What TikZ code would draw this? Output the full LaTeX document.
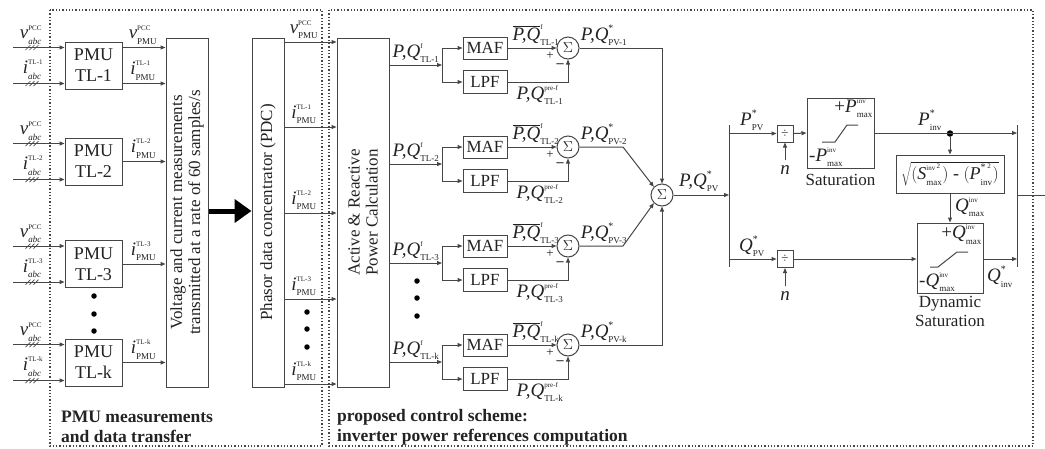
\documentclass[tikz,border=0pt]{standalone}
\usepackage{fontspec}
\setmainfont{Liberation Serif}
\usetikzlibrary{arrows.meta,calc}
\definecolor{lc}{RGB}{70,70,70}
\definecolor{tc}{RGB}{35,35,35}
\newcommand\lb[3]{\ensuremath{\textit{#1}^{\raisebox{2pt}{\fontsize{7}{7}\selectfont #2}}_{\raisebox{-1pt}{\fontsize{9}{9}\selectfont #3}}}}
\newcommand\lbo[3]{\ensuremath{\overline{\textit{#1}}^{\raisebox{2pt}{\fontsize{7}{7}\selectfont #2}}_{\raisebox{-1pt}{\fontsize{9}{9}\selectfont #3}}}}
\newcommand\st{\fontsize{10}{10}\selectfont *}
\tikzset{
 bx/.style={draw=lc, line width=1pt, inner sep=0pt, align=center, font=\fontsize{18}{21}\selectfont},
 rt/.style={rotate=90, inner sep=0pt, align=center, font=\fontsize{17}{18}\selectfont},
 lbl/.style={inner sep=0pt, font=\fontsize{19}{20}\selectfont},
 ar/.style={draw=lc, line width=1pt, -{Triangle[length=5pt,width=4pt]}},
 ln/.style={draw=lc, line width=1pt},
 tk/.style={draw=lc, line width=0.7pt},
 sm/.style={draw=lc, line width=1pt, circle, minimum size=22pt, inner sep=0pt, font=\fontsize{14}{14}\selectfont},
 dv/.style={draw=lc, line width=1pt, minimum width=16pt, minimum height=17pt, inner sep=0pt, font=\fontsize{13}{13}\selectfont},
 dt/.style={circle, fill=black, inner sep=0pt, minimum size=5.5pt},
 frm/.style={draw=lc, line width=1.3pt, dotted},
 sg/.style={inner sep=0pt, font=\fontsize{13}{13}\selectfont}
}
\begin{document}
\begin{tikzpicture}[x=1pt,y=-1pt, every node/.append style={text=tc}]
\fill[white] (0,0) rectangle (1045,448);
\useasboundingbox (0,0) rectangle (1045,448);
% frames
\draw[frm] (50,10) rectangle (322,446);
\draw[frm] (329,10) rectangle (1033,446);
% big boxes
\node[bx,minimum width=42pt,minimum height=349pt] (vc) at (187,212.5) {};
\node[rt] (vct) at (vc) {Voltage and current measurements\\transmitted at a rate of 60 samples/s};
\node[bx,minimum width=32pt,minimum height=349pt] (pdc) at (268,212.5) {};
\node[rt] (pdct) at (pdc) {Phasor data concentrator (PDC)};
\node[bx,minimum width=52pt,minimum height=349pt] (arp) at (363,212.5) {};
\node[rt] (arpt) at (arp) {Active \& Reactive\\Power Calculation};
% PMU blocks
\foreach \n/\c in {1/65.5,2/161.5,3/264,k/362.5}{
 \node[bx,minimum width=57pt,minimum height=47pt] (pmu\n) at (93.5,\c) {PMU\\TL-\n};
 \coordinate (va\n) at (13,{\c-18});
 \coordinate (ia\n) at (13,{\c+18});
 \draw[ar] (va\n) -- (va\n -| pmu\n.west);
 \draw[ar] (ia\n) -- (ia\n -| pmu\n.west);
 \foreach \xx in {28,32,36}{
  \draw[tk] (\xx-2.5,{\c-18+2.5}) -- (\xx+2.5,{\c-18-2.5});
  \draw[tk] (\xx-2.5,{\c+18+2.5}) -- (\xx+2.5,{\c+18-2.5});
 }
 \node[lbl,anchor=south] (vl\n) at (31,{\c-21}) {\lb{v}{PCC}{\textit{abc}}};
 \node[lbl,anchor=south] (il\n) at (33,{\c+14}) {\lb{i}{TL-\n}{\textit{abc}}};
}
% PMU outputs
\draw[ar] (va1 -| pmu1.east) -- (va1 -| vc.west);
\draw[ar] (ia1 -| pmu1.east) -- (ia1 -| vc.west);
\node[lbl,anchor=south] (o1) at (143,44.5) {\lb{v}{PCC}{PMU}};
\node[lbl,anchor=south] (o2) at (143,80.5) {\lb{i}{TL-1}{PMU}};
\foreach \n in {2,3,k}{
 \draw[ar] (pmu\n.east) -- (pmu\n.east -| vc.west);
 \node[lbl,anchor=south] (ol\n) at ($(pmu\n.east)+(21,-3)$) {\lb{i}{TL-\n}{PMU}};
}
\node[dt] (d1) at (94,296) {};
\node[dt] (d2) at (94,314) {};
\node[dt] (d3) at (94,331) {};
% thick arrow
\coordinate (ta) at (0,211);
\draw[line width=5pt, draw=black, -{Triangle[length=17pt,width=23pt]}] (ta -| vc.east) -- (ta -| pdc.west);
% PDC outputs
\foreach \y/\n in {127/1,213/2,299/3,384/k}{
 \coordinate (p\n) at (0,\y);
 \draw[ar] (p\n -| pdc.east) -- (p\n -| arp.west);
 \node[lbl,anchor=south] (pl\n) at (304,{\y-3}) {\lb{i}{TL-\n}{PMU}};
}
\coordinate (pv) at (0,42);
\draw[ar] (pv -| pdc.east) -- (pv -| arp.west);
\node[lbl,anchor=south] (plv) at (304,39) {\lb{v}{PCC}{PMU}};
\node[dt] (e1) at (307,312) {};
\node[dt] (e2) at (307,329) {};
\node[dt] (e3) at (307,347) {};
% filters
\node[sm] (bs) at (662,195) {$\Sigma$};
\foreach \n/\m in {1/48,2/147,3/246,k/345}{
 \node[bx,minimum width=44pt,minimum height=22pt,font=\fontsize{17}{17}\selectfont] (maf\n) at (485,\m) {MAF};
 \node[bx,minimum width=44pt,minimum height=23pt,font=\fontsize{17}{17}\selectfont] (lpf\n) at (485,{\m+34}) {LPF};
 \node[sm] (s\n) at (568,\m) {$\Sigma$};
 \coordinate (br\n) at (442,{\m+17});
 \draw[ar] (br\n -| arp.east) -- (br\n);
 \draw[ln] (br\n |- maf\n) -- (br\n |- lpf\n);
 \draw[ar] (br\n |- maf\n) -- (maf\n.west);
 \draw[ar] (br\n |- lpf\n) -- (lpf\n.west);
 \draw[ar] (maf\n.east) -- (s\n.west);
 \draw[ar] (lpf\n.east) -| (s\n.south);
 \node[sg] (pl\n) at ($(s\n)+(-18,8)$) {+};
 \node[sg,font=\bfseries\fontsize{14}{14}\selectfont] (mn\n) at ($(s\n)+(-8,18)$) {\textendash};
 \node[lbl,anchor=south] (al\n) at (416,{\m+15}) {\lb{P,Q}{f}{TL-\n}};
 \node[lbl,anchor=south] (ml\n) at (536,{\m-2}) {\lbo{P,Q}{f}{TL-\n}};
 \node[lbl,anchor=north] (ll\n) at (540,{\m+37}) {\lb{P,Q}{pre-f}{TL-\n}};
 \node[lbl,anchor=south] (sl\n) at (604,{\m-2}) {\lb{P,Q}{\st}{PV-\n}};
}
\node[dt] (f1) at (417,281) {};
\node[dt] (f2) at (417,298) {};
\node[dt] (f3) at (417,316) {};
\draw[ar] (s1.east) -| (bs.north);
\draw[ar] (sk.east) -| (bs.south);
\coordinate (k2) at (623,147);
\coordinate (k3) at (623,246);
\draw[ar] (s2.east) -- (k2) -- (bs.north west);
\draw[ar] (s3.east) -- (k3) -- (bs.south west);
% splitting bars
\coordinate (lbt) at (729,125);
\coordinate (lbb) at (729,267);
\coordinate (rbt) at (1017,125);
\coordinate (rbb) at (1017,267);
\draw[ln] (lbt) -- (lbb);
\draw[ln] (rbt) -- (rbb);
\draw[ar] (bs.east) -- (bs.east -| lbt);
\node[lbl,anchor=south] (bsl) at (699,192) {\lb{P,Q}{\st}{PV}};
% P branch
\node[dv] (dv1) at (785,133.5) {÷};
\node[dv] (dv2) at (785,259) {÷};
\draw[ar] (dv1 -| lbt) -- (dv1.west);
\draw[ar] (dv2 -| lbt) -- (dv2.west);
\node[lbl] (n1) at (785,170) {\textit{n}};
\node[lbl] (n2) at (785,296) {\textit{n}};
\draw[ar, shorten <=5pt] (n1.north) -- (dv1.south);
\draw[ar, shorten <=5pt] (n2.north) -- (dv2.south);
\node[lbl,anchor=south] (ppv) at (752,131) {\lb{P}{\st}{PV}};
\node[lbl,anchor=south] (qpv) at (752,257) {\lb{Q}{\st}{PV}};
\node[bx,minimum width=67pt,minimum height=70pt] (sat) at (840.5,133) {};
\draw[ln] ($(sat)+(-18.5,9)$) -- ($(sat)+(-5.5,9)$) -- ($(sat)+(6.5,-8)$) -- ($(sat)+(17.5,-8)$);
\node[lbl,anchor=north east] (spp) at (873,99) {+\lb{P}{inv}{max}};
\node[lbl,anchor=south west] (spm) at (809,167) {-\lb{P}{inv}{max}};
\node[lbl,font=\fontsize{17}{17}\selectfont] (satl) at (840.5,180) {Saturation};
\draw[ar] (dv1.east) -- (sat.west);
\node[dt,minimum size=6.5pt] (jd) at (950,133.5) {};
\draw[ar] (sat.east) -- (sat.east -| rbt);
\node[lbl,anchor=south] (pinv) at (930,131) {\lb{P}{\st}{inv}};
\node[bx,minimum width=108pt,minimum height=38pt,font=\fontsize{18}{20}\selectfont] (sq) at (950,174) {$\sqrt{(\textit{S}^{\raisebox{2pt}{\fontsize{7}{7}\selectfont inv\,\raisebox{2pt}{2}}}_{\raisebox{-1pt}{\fontsize{9}{9}\selectfont max}})\mbox{ - }(\textit{P}^{\raisebox{2pt}{\fontsize{10}{10}\selectfont *\,\fontsize{7}{7}\selectfont\raisebox{2pt}{2}}}_{\raisebox{-1pt}{\fontsize{9}{9}\selectfont inv}})}$};
\draw[ar] (jd) -- (sq.north);
\node[bx,minimum width=66pt,minimum height=70pt] (dyn) at (950,258) {};
\draw[ln] ($(dyn)+(-20,9)$) -- ($(dyn)+(-12,9)$) -- ($(dyn)+(7,-6)$) -- ($(dyn)+(18,-6)$);
\node[lbl,anchor=north east] (dqp) at (982,225) {+\lb{Q}{inv}{max}};
\node[lbl,anchor=south west] (dqm) at (919,292) {-\lb{Q}{inv}{max}};
\node[lbl,align=center,font=\fontsize{17}{19}\selectfont,anchor=north] (dynl) at (950,296) {Dynamic\\Saturation};
\draw[ar] (sq.south) -- (dyn.north);
\node[lbl,anchor=west] (qmax) at (955,207) {\lb{Q}{inv}{max}};
\draw[ar] (dv2.east) -- (dv2.east -| dyn.west);
\draw[ar] (dv2.east -| dyn.east) -- (dv2.east -| rbt);
\node[lbl,anchor=north] (qinv) at (1000,266) {\lb{Q}{\st}{inv}};
\coordinate (out) at (1045,195);
\draw[ln] (out -| rbt) -- (out);
% captions
\node[anchor=west,align=left,inner sep=0pt,font=\bfseries\fontsize{17.5}{20}\selectfont] (c1) at (61,427) {PMU measurements\\and data transfer};
\node[anchor=west,align=left,inner sep=0pt,font=\bfseries\fontsize{17.5}{20}\selectfont] (c2) at (337,427) {proposed control scheme:\\inverter power references computation};
\end{tikzpicture}
\end{document}
